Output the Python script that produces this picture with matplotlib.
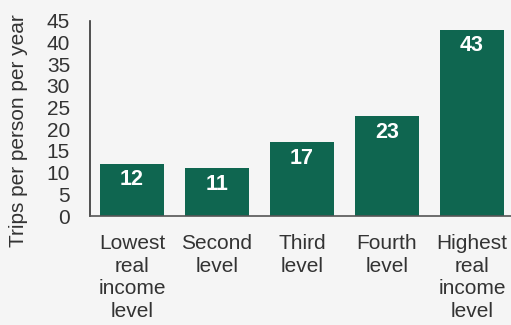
import matplotlib
matplotlib.use("Agg")
import matplotlib.pyplot as plt

categories = ["Lowest\nreal\nincome\nlevel", "Second\nlevel", "Third\nlevel", "Fourth\nlevel", "Highest\nreal\nincome\nlevel"]
values = [12, 11, 17, 23, 43]
yticks = [0, 5, 10, 15, 20, 25, 30, 35, 40, 45]

plt.rcParams['font.family'] = ['Liberation Sans', 'DejaVu Sans']
bg = '#f5f5f5'
green = '#0f6650'
txt = '#333333'
fs = 15

fig = plt.figure(figsize=(5.11, 3.25), dpi=100, facecolor=bg)
ax = fig.add_axes([89.5/511, 1 - 216/325, (511 - 89.5)/511, (216 - 21)/325])
ax.set_facecolor(bg)

x = list(range(len(values)))
bars = ax.bar(x, values, width=0.75, color=green)
for xi, v in zip(x, values):
    ax.annotate(str(v), (xi, v), xytext=(0, -11.5), textcoords='offset points',
                ha='center', va='center', color='white',
                fontsize=15.5, fontweight='bold')

ax.set_xlim(-0.5, 4.46)
ax.set_ylim(0, 45)
ax.set_yticks(yticks)
ax.set_yticklabels([str(t) for t in yticks], fontsize=fs, color=txt)
ax.set_xticks(x)
ax.set_xticklabels(categories, fontsize=fs, color=txt, linespacing=1.24)
ax.tick_params(axis='y', length=0, pad=14)
ax.tick_params(axis='x', length=0, pad=13)
for s in ['top', 'right']:
    ax.spines[s].set_visible(False)
ax.spines['left'].set_color('#333333')
ax.spines['bottom'].set_color('#555555')
ax.spines['left'].set_linewidth(1.2)
ax.spines['bottom'].set_linewidth(1.2)
ax.set_ylabel("Trips per person per year", fontsize=fs, color=txt)
ax.yaxis.set_label_coords(-0.145, 0.44)

fig.savefig("out.png", dpi=100, facecolor=bg)
